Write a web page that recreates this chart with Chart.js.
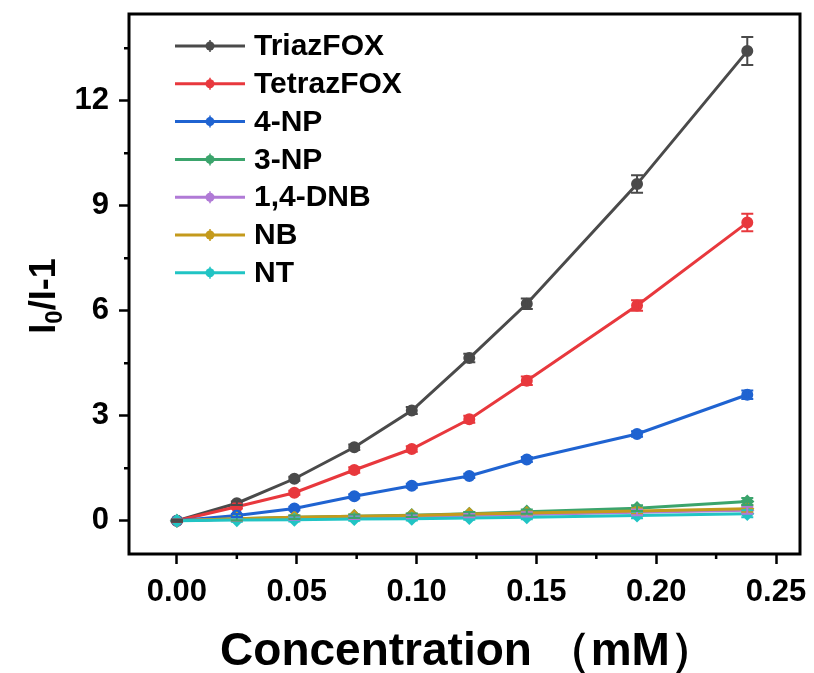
<!DOCTYPE html>
<html>
<head>
<meta charset="utf-8">
<script src="https://cdn.jsdelivr.net/npm/chart.js@4"></script>
<style>
html, body { margin: 0; padding: 0; background: #fff; }
</style>
</head>
<body>
<canvas id="myChart" width="814" height="673"></canvas>
<script>
// concentration (mM)
var conc = [0, 0.025, 0.049, 0.074, 0.098, 0.122, 0.146, 0.192, 0.238];

// I0/I-1 for each analyte
var triazfox  = [0, 0.50, 1.20, 2.10, 3.15, 4.65, 6.20, 9.62, 13.42];
var tetrazfox = [0, 0.40, 0.80, 1.45, 2.05, 2.90, 4.00, 6.15, 8.52];
var np4       = [0, 0.15, 0.35, 0.70, 1.00, 1.28, 1.75, 2.48, 3.60];
var np3       = [0, 0.06, 0.10, 0.13, 0.16, 0.20, 0.26, 0.36, 0.55];
var dnb14     = [0, 0.05, 0.08, 0.10, 0.12, 0.15, 0.18, 0.24, 0.30];
var nb        = [0, 0.06, 0.10, 0.13, 0.15, 0.19, 0.22, 0.28, 0.34];
var nt        = [0, 0.02, 0.03, 0.05, 0.06, 0.08, 0.10, 0.15, 0.20];

// error bars (+/-)
var triazfoxErr  = [0.03, 0.05, 0.06, 0.08, 0.10, 0.12, 0.15, 0.25, 0.40];
var tetrazfoxErr = [0.03, 0.05, 0.06, 0.08, 0.08, 0.10, 0.12, 0.15, 0.25];
var np4Err       = [0.03, 0.04, 0.05, 0.06, 0.06, 0.06, 0.07, 0.08, 0.12];
var smallErr     = [0.03, 0.05, 0.05, 0.05, 0.05, 0.05, 0.06, 0.08, 0.10];

var names  = ['TriazFOX', 'TetrazFOX', '4-NP', '3-NP', '1,4-DNB', 'NB', 'NT'];
var series = [triazfox, tetrazfox, np4, np3, dnb14, nb, nt];
var errs   = [triazfoxErr, tetrazfoxErr, np4Err, smallErr, smallErr, smallErr, smallErr];
var colors = ['#4a4a4a', '#e8383d', '#1f63d1', '#3ba46c', '#b07ad6', '#c49a1c', '#21c4c4'];

var xTicks = [0, 0.05, 0.10, 0.15, 0.20, 0.25];
var yTicks = [0, 3, 6, 9, 12];

var FONT = "'Liberation Sans', Arial, sans-serif";

function toPoints(arr) {
    return arr.map(function (v, i) { return { x: conc[i], y: v }; });
}

var datasets = series.map(function (s, i) {
    return {
        label: names[i],
        data: toPoints(s),
        err: errs[i],
        borderColor: colors[i],
        backgroundColor: colors[i],
        borderWidth: 3,
        pointRadius: i < 3 ? 4.5 : 5,
        pointStyle: i < 3 ? 'circle' : 'rectRot',
        tension: 0
    };
});
// draw the flat ones first so the upper curves sit on top
datasets.reverse();

var extras = {
    id: 'extras',
    afterDatasetsDraw: function (chart) {
        var ctx = chart.ctx;
        var ys = chart.scales.y;
        ctx.save();
        chart.data.datasets.forEach(function (ds, di) {
            var meta = chart.getDatasetMeta(di);
            ctx.strokeStyle = ds.borderColor;
            ctx.lineWidth = 2;
            meta.data.forEach(function (pt, j) {
                var e = ds.err[j];
                var v = ds.data[j].y;
                var y1 = ys.getPixelForValue(v + e);
                var y2 = ys.getPixelForValue(v - e);
                ctx.beginPath();
                ctx.moveTo(pt.x, y1); ctx.lineTo(pt.x, y2);
                ctx.moveTo(pt.x - 6, y1); ctx.lineTo(pt.x + 6, y1);
                ctx.moveTo(pt.x - 6, y2); ctx.lineTo(pt.x + 6, y2);
                ctx.stroke();
            });
        });
        ctx.restore();
    },
    afterDraw: function (chart) {
        var ctx = chart.ctx;
        var a = chart.chartArea;
        var xs = chart.scales.x, ys = chart.scales.y;
        ctx.save();
        // frame
        ctx.strokeStyle = '#000';
        ctx.lineWidth = 3;
        ctx.strokeRect(a.left, a.top, a.right - a.left, a.bottom - a.top);
        // minor ticks
        ctx.lineWidth = 2.5;
        ctx.beginPath();
        [0.025, 0.075, 0.125, 0.175, 0.225].forEach(function (v) {
            var px = xs.getPixelForValue(v);
            ctx.moveTo(px, a.bottom); ctx.lineTo(px, a.bottom + 5);
        });
        [1.5, 4.5, 7.5, 10.5, 13.5].forEach(function (v) {
            var py = ys.getPixelForValue(v);
            ctx.moveTo(a.left, py); ctx.lineTo(a.left - 5, py);
        });
        ctx.stroke();

        // legend
        var lx = 175, ly = 46, step = 37.8;
        var items = chart.data.datasets.slice().reverse();
        ctx.textBaseline = 'middle';
        ctx.textAlign = 'left';
        ctx.font = 'bold 30px ' + FONT;
        items.forEach(function (ds, i) {
            var y = ly + i * step;
            ctx.strokeStyle = ds.borderColor;
            ctx.fillStyle = ds.borderColor;
            ctx.lineWidth = 3;
            ctx.beginPath();
            ctx.moveTo(lx, y); ctx.lineTo(lx + 70, y);
            ctx.stroke();
            ctx.lineWidth = 1.5;
            ctx.beginPath();
            ctx.moveTo(lx + 35, y - 6); ctx.lineTo(lx + 35, y + 6);
            ctx.stroke();
            ctx.beginPath();
            ctx.arc(lx + 35, y, 4.5, 0, Math.PI * 2);
            ctx.fill();
            ctx.fillStyle = '#000';
            ctx.fillText(ds.label, lx + 79, y + 1);
        });

        // axis titles
        ctx.fillStyle = '#000';
        ctx.font = 'bold 46px ' + FONT;
        ctx.textAlign = 'center';
        ctx.textBaseline = 'middle';
        ctx.fillText('Concentration \uFF08mM\uFF09', 468, 652);

        ctx.translate(45, 296);
        ctx.rotate(-Math.PI / 2);
        ctx.textAlign = 'left';
        var big = 'bold 36px ' + FONT, small = 'bold 24px ' + FONT;
        ctx.font = big;
        var w1 = ctx.measureText('I').width;
        var w3 = ctx.measureText('/I-1').width;
        ctx.font = small;
        var w2 = ctx.measureText('0').width;
        var x0 = -(w1 + w2 + w3) / 2;
        ctx.font = big;
        ctx.fillText('I', x0, 0);
        ctx.font = small;
        ctx.fillText('0', x0 + w1, 10);
        ctx.font = big;
        ctx.fillText('/I-1', x0 + w1 + w2, 0);
        ctx.restore();
    }
};

var ctx = document.getElementById('myChart').getContext('2d');
var chart = new Chart(ctx, {
    type: 'line',
    data: { datasets: datasets },
    options: {
        responsive: false,
        animation: false,
        devicePixelRatio: 1,
        layout: { padding: { top: 14, right: 14, left: 0, bottom: 0 } },
        plugins: { legend: { display: false }, tooltip: { enabled: false } },
        scales: {
            x: {
                type: 'linear',
                min: -0.02,
                max: 0.26,
                afterFit: function (s) {
                    s.height = 119;
                    s.paddingLeft = 0; s.paddingRight = 0;
                },
                afterBuildTicks: function (s) { s.ticks = xTicks.map(function (v) { return { value: v }; }); },
                border: { display: false },
                grid: { drawOnChartArea: false, drawTicks: true, tickLength: 10, tickWidth: 2.5, tickColor: '#000' },
                ticks: {
                    color: '#000',
                    padding: 10,
                    maxRotation: 0,
                    font: { family: FONT, weight: 'bold', size: 31 },
                    callback: function (v) { return Number(v).toFixed(2); }
                }
            },
            y: {
                type: 'linear',
                min: -0.95,
                max: 14.48,
                afterFit: function (s) {
                    s.width = 129;
                    s.paddingTop = 0; s.paddingBottom = 0;
                },
                afterBuildTicks: function (s) { s.ticks = yTicks.map(function (v) { return { value: v }; }); },
                border: { display: false },
                grid: { drawOnChartArea: false, drawTicks: true, tickLength: 10, tickWidth: 2.5, tickColor: '#000' },
                ticks: {
                    color: '#000',
                    padding: 10,
                    font: { family: FONT, weight: 'bold', size: 31 },
                    callback: function (v) { return String(v); }
                }
            }
        }
    },
    plugins: [extras]
});
</script>
</body>
</html>
